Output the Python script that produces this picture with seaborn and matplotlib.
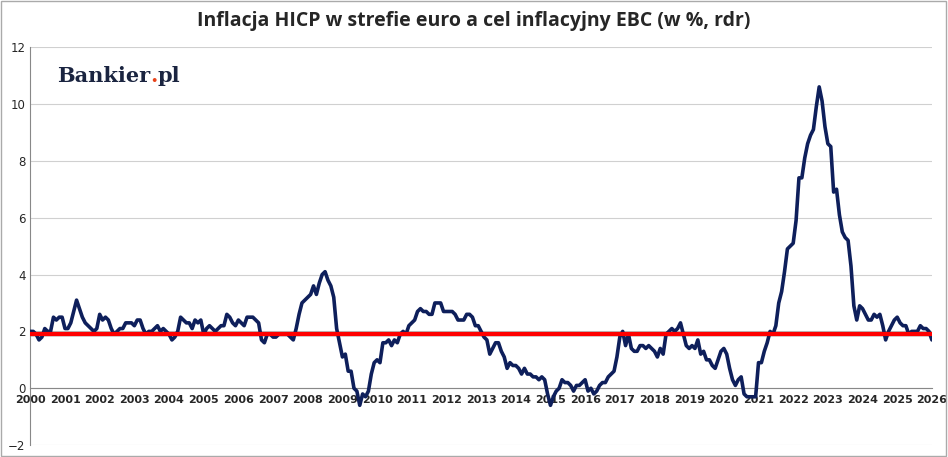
import numpy as np
import matplotlib
matplotlib.use("Agg")
import matplotlib.pyplot as plt
import seaborn as sns
import pandas as pd

# HICP y/y, monthly values per year
y2000 = [2.0, 2.0, 1.9, 1.7, 1.8, 2.1, 2.0, 2.0, 2.5, 2.4, 2.5, 2.5]
y2001 = [2.1, 2.1, 2.3, 2.7, 3.1, 2.8, 2.5, 2.3, 2.2, 2.1, 2.0, 2.1]
y2002 = [2.6, 2.4, 2.5, 2.4, 2.1, 1.9, 2.0, 2.1, 2.1, 2.3, 2.3, 2.3]
y2003 = [2.2, 2.4, 2.4, 2.1, 1.9, 2.0, 2.0, 2.1, 2.2, 2.0, 2.1, 2.0]
y2004 = [1.9, 1.7, 1.8, 2.0, 2.5, 2.4, 2.3, 2.3, 2.1, 2.4, 2.3, 2.4]
y2005 = [1.9, 2.1, 2.2, 2.1, 2.0, 2.1, 2.2, 2.2, 2.6, 2.5, 2.3, 2.2]
y2006 = [2.4, 2.3, 2.2, 2.5, 2.5, 2.5, 2.4, 2.3, 1.7, 1.6, 1.9, 1.9]
y2007 = [1.8, 1.8, 1.9, 1.9, 1.9, 1.9, 1.8, 1.7, 2.1, 2.6, 3.0, 3.1]
y2008 = [3.2, 3.3, 3.6, 3.3, 3.7, 4.0, 4.1, 3.8, 3.6, 3.2, 2.1, 1.6]
y2009 = [1.1, 1.2, 0.6, 0.6, 0.0, -0.1, -0.6, -0.2, -0.3, -0.1, 0.5, 0.9]
y2010 = [1.0, 0.9, 1.6, 1.6, 1.7, 1.5, 1.7, 1.6, 1.9, 2.0, 1.9, 2.2]
y2011 = [2.3, 2.4, 2.7, 2.8, 2.7, 2.7, 2.6, 2.6, 3.0, 3.0, 3.0, 2.7]
y2012 = [2.7, 2.7, 2.7, 2.6, 2.4, 2.4, 2.4, 2.6, 2.6, 2.5, 2.2, 2.2]
y2013 = [2.0, 1.8, 1.7, 1.2, 1.4, 1.6, 1.6, 1.3, 1.1, 0.7, 0.9, 0.8]
y2014 = [0.8, 0.7, 0.5, 0.7, 0.5, 0.5, 0.4, 0.4, 0.3, 0.4, 0.3, -0.2]
y2015 = [-0.6, -0.3, -0.1, 0.0, 0.3, 0.2, 0.2, 0.1, -0.1, 0.1, 0.1, 0.2]
y2016 = [0.3, -0.1, 0.0, -0.2, -0.1, 0.1, 0.2, 0.2, 0.4, 0.5, 0.6, 1.1]
y2017 = [1.8, 2.0, 1.5, 1.9, 1.4, 1.3, 1.3, 1.5, 1.5, 1.4, 1.5, 1.4]
y2018 = [1.3, 1.1, 1.4, 1.2, 1.9, 2.0, 2.1, 2.0, 2.1, 2.3, 1.9, 1.5]
y2019 = [1.4, 1.5, 1.4, 1.7, 1.2, 1.3, 1.0, 1.0, 0.8, 0.7, 1.0, 1.3]
y2020 = [1.4, 1.2, 0.7, 0.3, 0.1, 0.3, 0.4, -0.2, -0.3, -0.3, -0.3, -0.3]
y2021 = [0.9, 0.9, 1.3, 1.6, 2.0, 1.9, 2.2, 3.0, 3.4, 4.1, 4.9, 5.0]
y2022 = [5.1, 5.9, 7.4, 7.4, 8.1, 8.6, 8.9, 9.1, 9.9, 10.6, 10.1, 9.2]
y2023 = [8.6, 8.5, 6.9, 7.0, 6.1, 5.5, 5.3, 5.2, 4.3, 2.9, 2.4, 2.9]
y2024 = [2.8, 2.6, 2.4, 2.4, 2.6, 2.5, 2.6, 2.2, 1.7, 2.0, 2.2, 2.4]
y2025 = [2.5, 2.3, 2.2, 2.2, 1.9, 2.0, 2.0, 2.0, 2.2, 2.1, 2.1, 2.0]
y2026 = [1.7]
target = 1.9

years = [y2000, y2001, y2002, y2003, y2004, y2005, y2006, y2007, y2008, y2009,
         y2010, y2011, y2012, y2013, y2014, y2015, y2016, y2017, y2018, y2019,
         y2020, y2021, y2022, y2023, y2024, y2025, y2026]
vals = [v for yr in years for v in yr]
df = pd.DataFrame({"t": 2000 + np.arange(len(vals)) / 12.0, "hicp": vals})

sns.set_style("white")
fig = plt.figure(figsize=(9.48, 4.57), dpi=100)
ax = fig.add_axes([0.032, 0.026, 0.951, 0.871])
ax.set_ylim(-2, 12)
ax.set_xlim(2000, 2026)
ax.set_yticks(range(-2, 13, 2))
ax.yaxis.grid(True, color="#d0d0d0", lw=0.8)
ax.set_axisbelow(True)

ax.axhline(target, color="#999999", lw=4, alpha=0.5, zorder=2)
ax.axhline(target, color="#ff0000", lw=3, zorder=4)
sns.lineplot(data=df, x="t", y="hicp", ax=ax, color="#0e1f5b", lw=2.6, zorder=3)

for s in ["top", "right"]:
    ax.spines[s].set_visible(False)
ax.spines["bottom"].set_position(("data", 0))
ax.spines["bottom"].set_color("#888888")
ax.spines["left"].set_color("#888888")
ax.set_xticks(range(2000, 2027))
ax.set_xticklabels([str(y) for y in range(2000, 2027)], fontsize=8,
                   fontweight="bold")
ax.tick_params(axis="x", length=3, pad=2, color="#888888")
ax.tick_params(axis="y", labelsize=8.5, length=0)
ax.set_xlabel("")
ax.set_ylabel("")

fig.text(0.5, 0.955, "Inflacja HICP w strefie euro a cel inflacyjny EBC (w %, rdr)",
         ha="center", va="center", fontsize=14, fontweight="bold",
         family="Open Sans")

# logo: "Bankier" + orange "." + "pl"
fig.canvas.draw()
r = fig.canvas.get_renderer()
x0 = 0.06
for part, col in [("Bankier", "#1a2440"), (".", "#e8431a"), ("pl", "#1a2440")]:
    t = fig.text(x0, 0.82, part, fontsize=15, fontweight="bold", color=col,
                 family="DejaVu Serif")
    bb = t.get_window_extent(renderer=r)
    x0 += bb.width / fig.bbox.width

fig.patches.append(plt.Rectangle((0.001, 0.002), 0.997, 0.995, fill=False,
                                 edgecolor="#aaaaaa", lw=1,
                                 transform=fig.transFigure))
fig.savefig("out.png", dpi=100)
